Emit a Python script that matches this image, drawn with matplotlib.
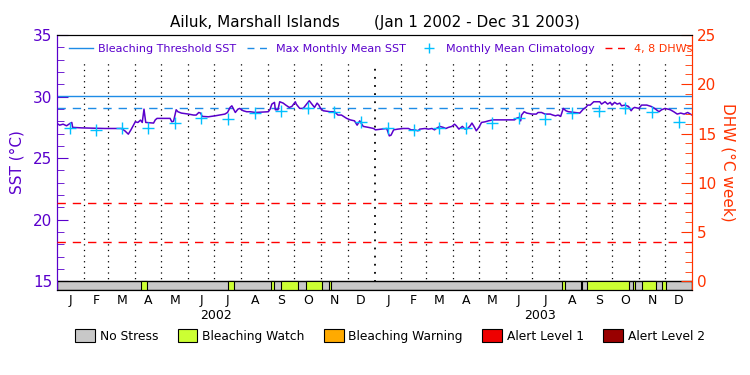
import numpy as np
import matplotlib
matplotlib.use('Agg')
from matplotlib import pyplot as plt
from matplotlib.lines import Line2D
from matplotlib.patches import Patch, Rectangle
from matplotlib.transforms import blended_transform_factory

# SST (days since 2002-01-01)
sst_day = [0, 3, 7, 11, 15, 17, 18, 28, 55, 74, 78, 82, 85, 90, 93, 96, 98, 100, 102, 111,
           113, 115, 130, 132, 134, 137, 139, 143, 151, 157, 160, 163, 165, 167, 174,
           182, 193, 196, 199, 201, 203, 205, 208, 210, 214, 218, 222, 228, 243, 245, 247,
           250, 251, 254, 256, 260, 263, 267, 270, 274, 275, 279, 283, 287, 290, 293, 296,
           299, 301, 303, 306, 314, 319, 323, 327, 333, 337, 342, 345, 348, 352, 358, 364,
           366, 373, 379, 382, 384, 387, 392, 398, 404, 407, 411, 415, 417, 423, 427, 431,
           434, 436, 440, 444, 447, 450, 454, 457, 459, 462, 466, 469, 472, 475, 477, 480,
           482, 485, 488, 492, 496, 501, 515, 526, 528, 531, 533, 534, 537, 540, 546, 551,
           553, 557, 561, 567, 570, 573, 576, 579, 582, 585, 588, 595, 601, 605, 608, 610,
           613, 617, 624, 626, 630, 633, 636, 638, 641, 644, 647, 649, 653, 657, 660, 662,
           664, 669, 672, 678, 683, 687, 689, 692, 695, 699, 705, 709, 713, 717, 721, 725,
           728, 730]
sst_val = [27.82, 27.68, 27.76, 27.63, 27.82, 27.90, 27.50, 27.46, 27.41, 27.41, 27.22, 26.95,
           27.30, 27.95, 27.90, 28.09, 27.90, 28.98, 27.90, 27.85, 28.11, 28.23, 28.23, 27.95,
           28.00, 28.93, 28.77, 28.66, 28.58, 28.50, 28.50, 28.71, 28.66, 28.39, 28.36,
           28.44, 28.58, 28.71, 29.12, 29.25, 28.98, 28.71, 28.98, 29.04, 28.85, 28.77, 28.77,
           28.71, 28.77, 28.98, 29.39, 29.53, 28.93, 28.93, 29.58, 29.47, 29.31, 29.12, 29.20,
           29.58, 29.39, 29.04, 29.04, 29.39, 29.66, 29.39, 29.12, 29.47, 29.31, 29.04, 28.85,
           28.77, 28.77, 28.50, 28.50, 28.23, 28.11, 28.03, 27.68, 28.03, 27.58, 27.50, 27.41,
           27.30, 27.36, 27.41, 26.81, 26.87, 27.30, 27.36, 27.41, 27.41, 27.30, 27.30, 27.22,
           27.36, 27.41, 27.36, 27.41, 27.30, 27.41, 27.58, 27.50, 27.41, 27.50, 27.58, 27.76,
           27.63, 27.36, 27.58, 27.36, 27.41, 27.63, 27.85, 27.50, 27.22, 27.50, 27.90, 27.95,
           28.03, 28.11, 28.11, 28.11, 28.23, 28.31, 28.03, 28.50, 28.77, 28.66, 28.58, 28.58,
           28.71, 28.71, 28.58, 28.58, 28.50, 28.44, 28.50, 28.39, 29.04, 28.85, 28.77, 28.71,
           28.66, 28.98, 29.12, 29.31, 29.31, 29.58, 29.58, 29.39, 29.58, 29.39, 29.53, 29.31,
           29.53, 29.39, 29.47, 29.25, 29.31, 29.20, 28.85, 29.04, 29.12, 29.04, 29.31, 29.31,
           29.20, 29.04, 28.93, 28.77, 28.93, 29.04, 28.93, 28.77, 28.58, 28.66, 28.58, 28.71,
           28.58, 28.50]

clim_val = [27.41, 27.25, 27.41, 27.41, 27.85, 28.23, 28.20, 28.66, 28.85, 29.04, 28.77, 27.95]
mmm = 29.05
threshold = 30.05
dhw_levels = [4, 8]

watch_start = [97, 197, 246, 257, 286, 313, 581, 602, 609, 662, 672, 696]
watch_end = [103, 204, 249, 277, 305, 315, 584, 604, 658, 665, 689, 700]

month_letters = ['J', 'F', 'M', 'A', 'M', 'J', 'J', 'A', 'S', 'O', 'N', 'D']
years = ['2002', '2003']

purple = '#5a00cc'
orange = '#ff3300'
blue = '#1e8ce6'
cyan = '#00c0ff'
gray = '#c8c8c8'
green = '#ccff33'

months = np.arange('2002-01', '2004-02', dtype='datetime64[M]')
mstart = (months.astype('datetime64[D]') - np.datetime64('2002-01-01')).astype(int)
mmid = (mstart[:-1] + mstart[1:]) / 2.0

ybot = 14.3
fig = plt.figure(figsize=(7.5, 3.75), dpi=100)
ax = fig.add_axes([0.076, 0.2267, 0.8467, 0.68])
ax.set_xlim(0, 730)
ax.set_ylim(ybot, 35)

# dotted month lines
for d in mstart[1:-1]:
    lw = 1.3 if d == 365 else 0.9
    ax.plot([d, d], [ybot, 32.7], color='black', lw=lw, ls=(0, (1, 3.5)), zorder=1)

ax.axhline(threshold, color=blue, lw=1, zorder=2)
ax.axhline(mmm, color=blue, lw=1, ls=(0, (6, 5)), zorder=2)
ax.plot(sst_day, sst_val, color=purple, lw=1.1, zorder=4)
ax.plot(mmid, clim_val * 2, ls='none', marker='+', ms=9, mew=1.0, color=cyan, zorder=5)

# stress bar
ax.add_patch(Rectangle((0, ybot), 730, 15 - ybot, facecolor=gray, edgecolor='black', lw=1, zorder=6))
for s, e in zip(watch_start, watch_end):
    ax.add_patch(Rectangle((s, ybot), e - s, 15 - ybot, facecolor=green, edgecolor='black', lw=0.8, zorder=7))

ax.set_yticks([15, 20, 25, 30, 35])
ax.set_yticks(np.arange(15, 36, 1), minor=True)
ax.tick_params(axis='y', which='both', direction='in', colors=purple, labelsize=11)
ax.tick_params(axis='y', which='major', length=8)
ax.tick_params(axis='y', which='minor', length=5)
ax.spines['left'].set_color(purple)
ax.spines['right'].set_color(orange)
ax.set_ylabel('SST (°C)', color=purple, fontsize=11, labelpad=6)

ax.set_xticks(mmid)
ax.set_xticklabels(month_letters * 2, fontsize=9)
ax.tick_params(axis='x', length=0, pad=3)
trans = blended_transform_factory(ax.transData, ax.transAxes)
ax.text(183, -0.075, years[0], transform=trans, ha='center', va='top', fontsize=9)
ax.text(555, -0.075, years[1], transform=trans, ha='center', va='top', fontsize=9)

ax2 = ax.twinx()
ax2.set_ylim((ybot - 15) * 1.25, 25)
for lvl in dhw_levels:
    ax2.axhline(lvl, color='red', lw=1, ls=(0, (6, 5)), zorder=3)
ax2.set_yticks([0, 5, 10, 15, 20, 25])
ax2.set_yticks(np.arange(0, 26, 1), minor=True)
ax2.tick_params(axis='y', which='both', direction='in', colors=orange, labelsize=11)
ax2.tick_params(axis='y', which='major', length=8)
ax2.tick_params(axis='y', which='minor', length=5)
ax2.spines['right'].set_color(orange)
ax2.spines['left'].set_color(purple)
ax2.set_ylabel('DHW (°C week)', color=orange, fontsize=11, rotation=270, labelpad=14)

ax.set_title('Ailuk, Marshall Islands       (Jan 1 2002 - Dec 31 2003)', fontsize=11, pad=6)

handles = [
    Line2D([], [], color=blue, lw=1),
    Line2D([], [], color=blue, lw=1, ls=(0, (5, 4))),
    Line2D([], [], color=cyan, ls='none', marker='+', ms=7, mew=1.0),
    Line2D([], [], color='red', lw=1, ls=(0, (5, 4))),
]
labels = ['Bleaching Threshold SST', 'Max Monthly Mean SST', 'Monthly Mean Climatology', '4, 8 DHWs']
leg = ax2.legend(handles, labels, loc='upper left', bbox_to_anchor=(0.008, 0.99), ncol=4,
                 frameon=False, fontsize=8, handlelength=2.2, handletextpad=0.4,
                 columnspacing=1.0, borderaxespad=0.2,
                 labelcolor=[purple, purple, purple, orange])

stress_handles = [Patch(facecolor=c, edgecolor='black', lw=0.8)
                  for c in [gray, green, '#ffaa00', '#ee0000', '#990000']]
stress_labels = ['No Stress', 'Bleaching Watch', 'Bleaching Warning', 'Alert Level 1', 'Alert Level 2']
fig.legend(stress_handles, stress_labels, loc='center', bbox_to_anchor=(0.52, 0.104), ncol=5,
           frameon=False, fontsize=8.8, handlelength=1.6, handleheight=1.2, handletextpad=0.4,
           columnspacing=1.6)

fig.savefig('out.png', dpi=100)
